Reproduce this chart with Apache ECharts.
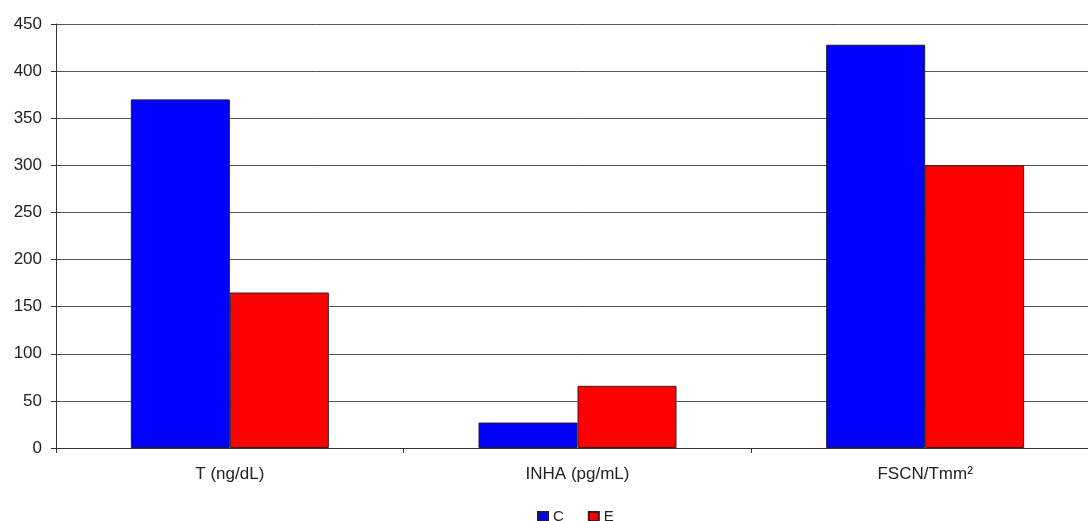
<!DOCTYPE html>
<html><head><meta charset="utf-8">
<script src="https://cdn.jsdelivr.net/npm/echarts@6/dist/echarts.min.js"></script>
<style>html,body{margin:0;padding:0;background:#fff;overflow:hidden}#c{width:1099px;height:521px}</style>
</head><body><div id="c"></div>
<script>
const categories = ['T (ng/dL)', 'INHA (pg/mL)', 'FSCN/Tmm²'];
const seriesC = [370, 27, 428];
const seriesE = [165, 66, 300];
const yTicks = {min: 0, max: 450, interval: 50};

const chart = echarts.init(document.getElementById('c'), null, {renderer: 'canvas'});
chart.setOption({
  animation: false,
  grid: {left: 56, right: 0, top: 24, height: 424},
  legend: {
    data: ['C', 'E'], top: 509, left: 537, padding: 0, itemWidth: 10, itemHeight: 9, itemGap: 24,
    textStyle: {fontFamily: 'Liberation Sans, Arial', fontSize: 15, color: '#222'},
    icon: 'rect'
  },
  xAxis: {
    type: 'category', data: categories,
    axisLine: {lineStyle: {color: '#333', width: 1}},
    axisTick: {show: true, length: 5, lineStyle: {color: '#333'}},
    axisLabel: {fontFamily: 'Liberation Sans, Arial', fontSize: 17, color: '#222', margin: 18}
  },
  yAxis: {
    type: 'value', min: yTicks.min, max: yTicks.max, interval: yTicks.interval,
    axisLine: {show: true, lineStyle: {color: '#333', width: 1}},
    axisTick: {show: true, length: 5, lineStyle: {color: '#333'}},
    splitLine: {lineStyle: {color: '#555', width: 1}},
    axisLabel: {fontFamily: 'Liberation Sans, Arial', fontSize: 17, color: '#222', margin: 14}
  },
  series: [
    {name: 'C', type: 'bar', data: seriesC, barWidth: 99, barGap: '0%',
     itemStyle: {color: '#0000ff', borderColor: '#1a1a40', borderWidth: 1}},
    {name: 'E', type: 'bar', data: seriesE, barWidth: 99, barGap: '0%',
     itemStyle: {color: '#ff0000', borderColor: '#401a1a', borderWidth: 1}}
  ]
});
</script></body></html>
